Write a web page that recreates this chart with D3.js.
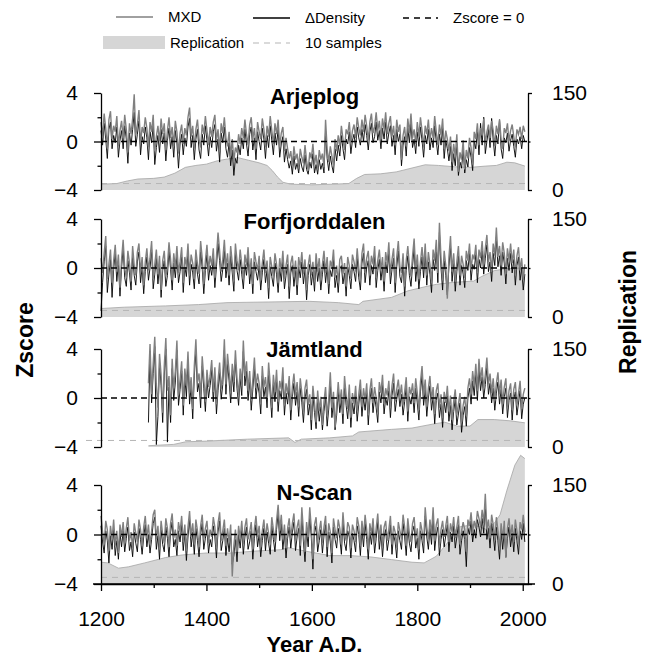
<!DOCTYPE html>
<html><head><meta charset="utf-8">
<script src="https://cdn.jsdelivr.net/npm/d3@7"></script>
<style>
html,body{margin:0;padding:0;background:#fff;}
svg{display:block;font-family:"Liberation Sans",Arial,sans-serif;}
</style></head><body>
<svg id="chart" width="646" height="659"></svg>
<script>
// ---------------- DATA ----------------
const sites = ["Arjeplog", "Forfjorddalen", "Jämtland", "N-Scan"];
const startYears = [1200, 1200, 1290, 1200];
const yearStep = 3;

const mxdArjeplog = [
 1.6,0.4,2.3,1.1,-0.6,1.8,2.5,0.2,1.3,0.8,
 2.1,-0.4,0.9,1.7,0.3,2.2,1.0,-0.9,1.5,0.6,
 1.9,3.9,0.5,1.4,2.6,-0.2,1.2,0.7,2.0,1.1,
 -0.5,1.6,0.8,2.2,-0.8,0.4,1.3,0.0,1.9,0.6,
 1.5,-0.7,0.9,2.0,0.3,1.2,-0.4,1.7,0.8,-1.0,
 0.7,1.4,-0.2,1.1,0.5,2.0,2.8,0.4,1.3,-0.6,
 1.0,1.8,0.2,-0.5,1.4,0.6,2.1,0.9,-0.3,1.2,
 0.4,1.6,2.2,0.1,1.0,-0.8,1.5,0.7,2.0,0.3,
 -0.4,0.8,-1.2,0.2,-1.6,-0.5,-0.9,0.6,-0.2,1.1,
 0.3,1.8,0.6,-0.3,1.4,2.0,0.2,1.1,-0.6,1.6,
 0.8,0.2,1.9,1.0,-0.5,1.3,0.4,2.1,0.9,-0.2,
 1.5,0.6,1.8,-0.4,0.7,1.2,-0.8,0.3,-0.6,-1.4,
 -0.8,-2.0,-0.4,-1.5,-1.0,-2.2,-0.6,-1.3,-1.8,-0.3,
 -1.6,-2.4,-0.9,-1.4,-0.2,-1.9,-1.1,-2.3,-0.7,-1.5,
 -1.0,-2.1,1.8,-0.6,-1.7,-0.4,-1.2,-2.0,0.2,-0.8,
 0.5,-0.4,1.3,0.2,-0.7,1.0,0.6,1.6,-0.2,0.9,
 1.4,0.3,2.0,1.1,0.5,1.8,0.8,2.2,1.3,0.1,
 1.6,2.3,0.7,1.2,2.4,0.9,1.7,0.2,1.9,1.0,
 2.4,0.6,1.5,2.1,0.4,1.3,-0.3,1.8,0.8,1.4,
 -1.5,0.5,1.2,-0.4,1.9,0.7,2.3,0.3,1.0,-0.2,
 1.6,0.4,2.0,0.9,-0.5,1.3,0.6,1.8,0.1,1.1,
 0.3,2.1,0.8,-0.3,1.4,0.5,1.9,-0.6,0.9,0.2,
 -0.8,0.4,-1.7,-0.2,-1.2,0.6,-2.5,-0.9,-1.5,0.1,
 -2.3,-0.7,-1.4,0.3,-0.5,-1.9,0.8,0.2,1.5,-0.3,
 1.1,0.5,1.9,-0.2,0.8,1.4,0.3,1.7,0.9,-0.4,
 1.3,0.6,1.8,0.2,-0.6,1.1,0.7,1.5,0.0,0.9,
 1.4,0.4,-0.5,1.0,0.6,1.2,0.2,1.3,0.8];
const densArjeplog = [
 0.9,-0.3,1.5,0.2,-1.4,1.0,1.6,-0.6,0.5,-0.1,
 1.2,-1.3,0.1,0.9,-0.6,1.3,0.2,-1.8,0.7,-0.3,
 1.0,2.4,-0.4,0.6,1.7,-1.1,0.4,-0.2,1.2,0.3,
 -1.5,0.8,-0.1,1.3,-1.9,-0.5,0.5,-0.9,1.0,-0.2,
 0.7,-1.6,0.1,1.1,-0.6,0.4,-1.3,0.9,-0.1,-2.2,
 -0.2,0.6,-1.1,0.3,-0.4,1.2,1.9,-0.5,0.5,-1.5,
 0.2,1.0,-0.7,-1.4,0.6,-0.3,1.3,0.1,-1.2,0.4,
 -0.5,0.8,1.4,-0.8,0.2,-1.7,0.7,-0.1,1.2,-0.6,
 -1.3,-0.1,-2.0,-0.7,-2.8,-1.4,-1.8,-0.3,-1.1,0.3,
 -0.6,1.0,-0.2,-1.2,0.6,1.2,-0.7,0.3,-1.5,0.8,
 0.0,-0.7,1.1,0.2,-1.4,0.5,-0.5,1.3,0.1,-1.1,
 0.7,-0.3,1.0,-1.3,-0.2,0.4,-1.7,-0.6,-1.5,-2.2,
 -1.6,-2.7,-1.2,-2.3,-1.8,-2.6,-1.4,-2.1,-2.5,-1.1,
 -2.3,-2.7,-1.7,-2.2,-1.0,-2.6,-1.9,-2.7,-1.5,-2.3,
 -1.8,-2.6,0.9,-1.4,-2.4,-1.2,-2.0,-2.6,-0.6,-1.6,
 -0.3,-1.2,0.5,-0.6,-1.5,0.2,-0.2,0.8,-1.0,0.1,
 0.6,-0.5,1.2,0.3,-0.3,1.0,0.0,1.4,0.5,-0.7,
 0.8,1.5,-0.1,0.4,1.6,0.1,0.9,-0.6,1.1,0.2,
 1.6,-0.2,0.7,1.3,-0.4,0.5,-1.1,1.0,0.0,0.6,
 -2.0,-0.3,0.4,-1.2,1.1,-0.1,1.5,-0.5,0.2,-1.0,
 0.8,-0.4,1.2,0.1,-1.3,0.5,-0.2,1.0,-0.7,0.3,
 -0.5,1.3,0.0,-1.1,0.6,-0.3,1.1,-1.4,0.1,-0.6,
 -1.6,-0.4,-2.4,-1.0,-2.0,-0.2,-2.8,-1.7,-2.2,-0.7,
 -2.6,-1.5,-2.1,-0.5,-1.3,-2.4,0.0,-0.6,0.9,-1.1,
 1.5,-0.3,2.0,-1.0,0.0,1.0,-0.5,1.9,0.1,-1.2,
 0.5,-0.2,1.8,-0.6,-1.4,0.3,-0.1,0.7,-0.8,0.1,
 0.6,-0.4,-1.3,0.2,-0.2,0.4,-0.6,0.5,0.0];

const mxdForfjorddalen = [
 0.8,-0.4,1.2,2.6,-0.9,0.3,1.5,-1.2,0.6,1.9,
 -0.3,1.1,-1.6,0.7,2.3,0.0,-0.8,1.4,0.4,-1.1,
 1.8,0.2,-0.6,1.3,2.0,-0.4,0.9,-1.4,0.5,1.6,
 -0.2,0.8,2.2,-0.9,0.3,1.5,-0.5,1.0,-1.8,0.6,
 1.4,-0.7,0.2,2.1,0.7,-1.0,1.2,0.0,1.8,-0.4,
 0.5,1.7,-1.2,0.9,0.1,2.0,-0.6,1.1,0.4,-0.9,
 1.5,0.3,-0.5,2.2,0.8,-1.3,0.6,1.9,-0.2,1.0,
 0.2,1.6,-0.8,0.9,2.9,1.4,-0.3,0.7,2.3,0.0,
 1.2,-0.6,1.8,0.4,-1.1,2.0,0.6,-0.2,1.5,0.3,
 -0.9,1.1,0.2,1.7,-0.5,0.8,-1.3,1.3,0.5,-0.2,
 1.0,-1.0,0.4,1.5,-0.4,0.6,-1.6,0.9,0.1,-0.7,
 1.2,0.3,-1.2,0.8,-0.3,1.4,-0.9,0.2,1.1,-1.5,
 0.4,1.0,-0.7,0.6,-1.4,0.9,0.0,1.3,-0.5,0.7,
 -1.8,0.2,1.1,-0.6,0.5,-1.1,1.2,-0.3,0.8,-1.0,
 0.3,1.4,-0.4,0.9,-1.3,0.6,0.1,1.5,-0.8,0.2,
 -1.2,0.7,1.0,-0.5,0.4,-1.5,0.9,0.2,-0.9,1.1,
 0.5,-0.3,1.6,0.0,-1.0,1.2,2.0,-0.4,0.8,1.4,
 -0.6,1.0,0.3,1.8,-0.8,0.6,1.5,-0.2,0.9,-1.1,
 1.3,0.4,2.1,-0.5,0.7,1.6,-1.2,0.9,2.2,0.1,
 -0.4,1.2,-1.5,0.6,1.8,0.2,-0.7,1.0,2.4,-0.3,
 1.1,-0.9,0.5,1.7,0.0,2.0,-0.6,1.3,0.3,-1.2,
 1.5,0.6,2.3,-0.4,3.7,0.8,-1.0,1.4,0.2,-2.5,
 0.9,2.6,-0.3,1.2,-1.1,0.5,1.8,-0.6,1.0,0.3,
 -0.8,1.4,0.6,2.0,-0.2,1.1,0.7,1.9,-0.4,1.5,
 0.8,2.2,0.3,1.6,2.7,0.5,1.3,-0.3,2.0,1.0,
 3.3,0.9,1.8,0.2,2.1,1.2,-0.5,1.6,0.6,2.0,
 0.4,1.5,-0.6,1.0,1.7,-0.2,0.8,-1.0,0.3];
const densForfjorddalen = [
 -3.5,-1.2,0.5,1.8,-2.0,-0.5,0.7,-2.4,-0.1,1.2,
 -1.1,0.4,-2.3,0.0,1.6,-0.8,-1.5,0.6,-0.4,-1.8,
 1.0,-0.6,-1.4,0.5,1.3,-1.2,0.1,-2.1,-0.3,0.9,
 -1.0,0.0,1.5,-1.7,-0.5,0.8,-1.3,0.2,-2.4,-0.2,
 0.6,-1.5,-0.6,1.4,-0.1,-1.8,0.4,-0.8,1.0,-1.2,
 -0.3,0.9,-2.0,0.1,-0.7,1.3,-1.4,0.3,-0.4,-1.7,
 0.7,-0.5,-1.3,1.4,0.0,-2.1,-0.2,1.1,-1.0,0.2,
 -0.6,0.8,-1.6,0.1,2.0,0.6,-1.1,-0.1,1.5,-0.8,
 0.4,-1.4,1.0,-0.4,-1.9,1.2,-0.2,-1.0,0.7,-0.5,
 -1.7,0.3,-0.6,0.9,-1.3,0.0,-2.1,0.5,-0.3,-1.0,
 0.2,-1.8,-0.4,0.7,-1.2,-0.2,-2.5,0.1,-0.7,-1.5,
 0.4,-0.5,-2.0,0.0,-1.1,0.6,-1.7,-0.6,0.3,-2.5,
 -0.4,0.2,-1.5,-0.2,-2.2,0.1,-0.8,0.5,-1.3,-0.1,
 -2.6,-0.6,0.3,-1.4,-0.3,-1.9,0.4,-1.1,0.0,-1.8,
 -0.5,0.6,-1.2,0.1,-2.1,-0.2,-0.7,0.7,-1.6,-0.6,
 -2.0,-0.1,0.2,-1.3,-0.4,-2.3,0.1,-0.6,-1.7,0.3,
 -0.3,-1.1,0.8,-0.8,-1.8,0.4,1.2,-1.2,0.0,0.6,
 -1.4,0.2,-0.5,1.0,-1.6,-0.2,0.7,-1.0,0.1,-1.9,
 0.5,-0.4,1.3,-1.3,-0.1,0.8,-2.0,0.1,1.4,-0.7,
 -1.2,0.4,-2.3,-0.2,1.0,-0.6,-1.5,0.2,1.6,-1.1,
 0.3,-1.7,-0.3,0.9,-0.8,1.2,-1.4,0.5,-0.5,-2.0,
 0.7,-0.2,1.5,-1.2,2.9,0.0,-1.8,0.6,-0.6,-2.2,
 0.1,1.8,-1.1,0.4,-1.9,-0.3,1.0,-1.4,0.2,-0.5,
 -1.6,0.6,-0.2,1.2,-1.0,0.3,-0.1,1.1,-1.2,0.7,
 0.0,1.4,-0.5,0.8,1.9,-0.3,0.5,-1.1,1.2,0.2,
 2.5,0.1,1.0,-0.6,1.3,0.4,-1.3,0.8,-0.2,1.2,
 -0.4,0.7,-1.4,0.2,0.9,-1.0,0.0,-1.8,-0.5];

const mxdJamtland = [
 1.2,4.4,0.3,2.8,5.0,1.0,-0.8,3.6,1.9,-1.2,
 2.6,4.9,0.6,1.8,-1.4,3.2,0.8,2.2,4.7,0.2,
 1.5,3.0,-0.6,2.4,1.0,3.8,0.4,1.7,-0.9,2.6,
 4.8,1.3,2.0,0.1,3.4,1.6,-0.3,2.3,0.9,1.8,
 3.1,0.5,2.5,-0.5,1.4,2.9,0.7,1.9,4.8,1.1,
 3.6,2.2,0.4,2.8,1.3,3.9,1.6,0.2,2.4,1.0,
 4.7,1.8,3.0,0.6,2.2,-0.2,1.5,3.3,0.8,2.0,
 1.2,-0.5,2.6,0.9,1.7,0.0,2.9,1.1,-0.8,1.9,
 0.5,2.3,-0.3,1.4,0.7,2.5,-0.6,1.2,0.3,1.8,
 -1.0,0.9,2.0,0.2,1.3,-0.7,1.6,0.4,-1.2,0.8,
 1.5,-0.6,0.3,-1.8,1.0,-0.4,-2.0,0.6,-1.1,0.1,
 -2.2,-0.3,0.9,-1.5,-0.1,2.1,-0.8,0.5,-2.4,-0.6,
 1.3,-0.4,0.7,-1.3,1.8,0.2,-0.9,1.1,-1.6,0.4,
 -0.5,1.0,-1.1,0.3,1.5,-0.7,0.8,-0.2,1.2,-1.4,
 0.6,1.6,-0.4,0.9,0.0,-1.2,1.3,0.4,1.9,-0.5,
 0.8,0.2,1.4,-0.8,1.0,2.0,-0.3,0.7,1.5,0.1,
 1.1,-0.6,0.5,1.7,-1.1,0.9,0.3,1.2,-0.4,1.6,
 0.4,-1.0,1.3,2.6,0.2,1.5,-0.7,0.8,1.8,-0.2,
 0.9,-1.3,0.6,1.2,-0.8,0.3,-1.6,0.5,-0.4,1.0,
 -1.1,0.2,-1.8,-0.3,0.7,-1.4,-0.5,0.4,-2.0,-0.6,
 0.1,-1.5,0.8,1.6,0.3,2.2,1.0,2.8,0.6,3.2,
 1.4,2.5,0.8,1.9,3.3,1.1,2.0,0.4,1.6,-0.2,
 1.2,2.1,0.3,1.5,-0.5,0.9,1.6,-0.8,0.6,1.2,
 -1.0,0.7,1.3,-0.6,0.4,1.4,-0.9,0.3,0.8];
const densJamtland = [
 -2.0,3.8,-0.4,2.0,4.2,-3.8,-1.5,2.9,1.0,-2.0,
 1.8,4.0,-3.6,0.9,-2.0,2.4,-0.2,1.3,3.9,-0.6,
 0.7,2.2,-1.4,1.6,0.1,3.0,-0.5,0.9,-1.7,1.8,
 3.8,0.5,1.2,-0.8,2.6,0.8,-1.1,1.5,0.0,1.0,
 2.3,-0.3,1.7,-1.3,0.6,2.1,-0.1,1.1,3.9,0.3,
 2.8,1.4,-0.4,2.0,0.5,3.1,0.8,-0.6,1.6,0.2,
 3.8,1.0,2.2,-0.2,1.4,-1.0,0.7,2.5,0.0,1.2,
 0.4,-1.3,1.8,0.1,0.9,-0.8,2.1,0.3,-1.6,1.1,
 -0.3,1.5,-1.1,0.6,-0.1,1.7,-1.4,0.4,-0.5,1.0,
 -1.8,0.1,1.2,-0.6,0.5,-1.5,0.8,-0.4,-2.0,0.0,
 0.7,-1.4,-0.5,-2.6,0.2,-1.2,-2.5,-0.2,-1.9,-0.7,
 -2.6,-1.1,0.1,-2.3,-0.9,1.3,-1.6,-0.3,-2.6,-1.4,
 0.5,-1.2,-0.1,-2.1,1.0,-0.6,-1.7,0.3,-2.4,-0.4,
 -1.3,0.2,-1.9,-0.5,0.7,-1.5,0.0,-1.0,0.4,-2.2,
 -0.2,0.8,-1.2,0.1,-0.8,-2.0,0.5,-0.4,1.1,-1.3,
 0.0,-0.6,0.6,-1.6,0.2,1.2,-1.1,-0.1,0.7,-0.7,
 0.3,-1.4,-0.3,0.9,-1.9,0.1,-0.5,0.4,-1.2,0.8,
 -0.4,-1.8,0.5,1.8,-0.6,0.7,-1.5,0.0,1.0,-1.0,
 0.1,-2.1,-0.2,0.4,-1.6,-0.5,-2.4,-0.3,-1.2,0.2,
 -1.9,-0.6,-2.6,-1.1,-0.1,-2.2,-1.3,-0.4,-2.8,-1.4,
 -0.7,-2.3,0.0,0.8,-0.5,1.4,0.2,2.0,-0.2,2.4,
 0.6,1.7,0.0,1.1,2.5,0.3,1.2,-0.4,0.8,-1.0,
 0.4,1.3,-0.5,0.7,-1.3,0.1,0.8,-1.6,-0.2,0.4,
 -1.8,-0.1,0.5,-1.4,-0.4,0.6,-1.7,-0.5,0.0];

const mxdNScan = [
 1.5,0.2,-0.8,1.1,0.4,-1.3,0.7,-0.4,1.2,-0.9,
 0.3,-1.5,0.8,-0.2,1.0,-0.7,0.5,1.4,-0.5,0.2,
 -1.1,0.9,0.1,-0.6,1.2,0.4,-0.9,0.6,1.5,-0.3,
 0.8,-0.8,0.3,1.6,2.0,-0.4,0.7,-1.2,1.1,0.0,
 -0.7,1.3,0.5,-1.0,0.9,1.7,-0.3,0.4,-0.9,1.0,
 0.2,1.5,-0.6,0.8,-1.3,0.6,1.9,-0.2,0.9,-0.8,
 1.2,0.3,-1.0,0.7,1.6,-0.4,0.5,1.1,-0.7,0.4,
 -0.2,1.4,0.6,-1.1,0.9,1.8,-0.5,0.3,1.2,-0.9,
 0.5,-0.6,0.8,-3.4,-0.9,0.4,-1.4,0.7,-0.3,1.1,
 -0.8,0.6,1.3,-0.4,0.2,1.0,-1.2,0.5,1.5,-0.2,
 0.7,-1.0,0.3,1.2,-0.5,0.9,0.1,-0.8,1.4,0.4,
 -0.6,1.1,2.4,0.3,1.6,-0.4,0.8,-1.1,0.5,1.3,
 -0.3,0.9,1.7,-0.5,0.6,1.2,-0.9,2.2,0.2,-1.4,
 1.0,-0.2,2.2,0.5,-2.0,0.8,1.4,-0.6,0.3,1.1,
 -0.7,0.6,1.5,-1.0,0.9,0.2,-1.5,1.3,0.4,-0.3,
 1.2,0.5,-0.8,1.8,0.1,-0.5,1.0,0.6,-1.1,0.8,
 0.3,-0.6,1.4,0.7,-0.9,1.1,-0.2,1.6,0.4,-1.2,
 0.9,0.0,1.3,-0.7,0.5,1.7,-0.4,0.8,-1.0,0.6,
 1.1,-0.5,0.4,1.5,-0.8,0.7,0.2,-1.1,1.0,0.3,
 -0.4,1.6,0.6,-0.9,1.3,0.1,-0.6,0.9,1.4,-0.3,
 0.5,-1.2,1.0,0.3,-0.7,2.2,0.6,-0.4,1.2,0.0,
 2.2,-0.5,0.8,1.3,-0.9,0.4,1.1,-0.2,0.7,1.5,
 -0.6,0.9,0.2,1.4,-0.3,0.6,1.5,-0.8,0.3,1.0,
 0.4,-1.4,1.2,0.7,1.8,0.2,1.1,0.5,1.9,1.3,
 0.6,2.0,0.9,3.3,0.4,1.2,-0.3,1.6,0.8,-0.5,
 1.4,0.3,-1.2,0.9,-0.4,1.1,-1.9,0.5,1.3,-0.2,
 0.8,-0.6,1.2,0.3,-0.8,1.0,0.4,1.6,0.2];
const densNScan = [
 0.7,-0.6,-1.5,0.3,-0.5,-2.3,-0.1,-1.2,0.4,-1.7,
 -0.5,-2.0,0.1,-1.0,0.3,-1.4,-0.3,0.6,-1.3,-0.6,
 -1.8,0.2,-0.7,-1.4,0.5,-0.4,-1.6,-0.2,0.8,-1.0,
 0.0,-1.5,-0.4,0.9,1.4,-1.2,-0.1,-2.0,0.4,-0.8,
 -1.4,0.6,-0.3,-1.8,0.2,1.0,-1.0,-0.4,-1.7,0.3,
 -0.6,0.8,-1.3,0.1,-2.1,-0.2,1.2,-1.0,0.2,-1.6,
 0.5,-0.5,-1.8,0.0,0.9,-1.2,-0.3,0.4,-1.5,-0.4,
 -1.0,0.7,-0.2,-1.9,0.2,1.1,-1.3,-0.5,0.5,-1.7,
 -0.3,-1.4,0.1,-2.4,-1.7,-0.4,-2.2,0.0,-1.1,0.4,
 -1.6,-0.2,0.6,-1.2,-0.6,0.3,-2.0,-0.3,0.8,-1.0,
 0.0,-1.8,-0.5,0.5,-1.3,0.2,-0.7,-1.6,0.7,-0.4,
 -1.4,0.4,1.7,-0.5,0.9,-1.2,0.1,-1.9,-0.3,0.6,
 -1.1,0.2,1.0,-1.3,-0.2,0.5,-1.7,1.5,-0.6,-2.2,
 0.3,-1.0,1.5,-0.3,-2.8,0.1,0.7,-1.4,-0.5,0.4,
 -1.5,-0.1,0.8,-1.8,0.2,-0.6,-2.3,0.6,-0.4,-1.1,
 0.5,-0.3,-1.6,1.1,-0.7,-1.3,0.3,-0.2,-1.9,0.1,
 -0.5,-1.4,0.7,0.0,-1.7,0.4,-1.0,0.9,-0.4,-2.0,
 0.2,-0.8,0.6,-1.5,-0.3,1.0,-1.2,0.1,-1.8,-0.2,
 0.4,-1.3,-0.4,0.8,-1.6,0.0,-0.6,-1.9,0.3,-0.5,
 -1.2,0.9,-0.2,-1.7,0.6,-0.7,-1.4,0.2,0.7,-1.1,
 -0.3,-2.0,0.3,-0.5,-1.5,1.5,-0.2,-1.2,0.5,-0.8,
 1.5,-1.3,0.0,0.6,-1.7,-0.4,0.4,-1.0,-0.1,0.8,
 -1.4,0.2,-0.6,0.7,-1.1,-0.2,0.8,-1.6,-0.5,0.3,
 -0.4,-2.6,0.5,0.0,1.1,-0.6,0.4,-0.3,1.2,0.6,
 -0.2,1.3,0.1,2.4,-0.4,0.5,-1.1,0.9,0.0,-1.3,
 0.6,-0.5,-2.0,0.2,-1.2,0.4,-1.8,-0.3,0.6,-1.0,
 0.1,-1.4,0.5,-0.5,-1.6,0.3,-0.4,0.9,-0.6];

// replication (number of samples), [year, count]
const repArjeplog = [[1200,9],[1230,10],[1250,14],[1270,17],[1300,18],[1320,20],[1340,26],[1360,35],[1380,38],[1400,40],[1420,45],[1440,48],[1460,50],[1480,46],[1500,42],[1515,38],[1525,30],[1535,20],[1545,12],[1560,9],[1600,8],[1640,9],[1670,10],[1685,18],[1700,24],[1730,25],[1760,28],[1790,34],[1815,39],[1840,38],[1870,36],[1900,35],[1930,37],[1950,38],[1970,43],[1985,42],[2004,37]];
const repForfjorddalen = [[1200,13],[1244,15],[1322,17],[1385,19],[1439,22],[1517,23],[1595,24],[1650,22],[1689,19],[1697,24],[1751,30],[1782,40],[1813,46],[1836,50],[1868,53],[1907,55],[1922,62],[1946,71],[1970,74],[1993,75],[2004,72]];
const repJamtland = [[1290,2],[1338,4],[1361,8],[1400,9],[1478,12],[1556,14],[1568,7],[1580,12],[1634,14],[1677,17],[1689,23],[1751,27],[1790,29],[1829,35],[1852,38],[1876,32],[1900,32],[1915,42],[1946,42],[1977,40],[2004,37]];
const repNScan = [[1200,33],[1213,32],[1233,24],[1252,26],[1283,32],[1322,40],[1354,44],[1400,47],[1447,47],[1494,50],[1541,52],[1556,55],[1587,50],[1634,43],[1673,43],[1712,41],[1751,37],[1790,33],[1813,32],[1836,42],[1860,65],[1876,86],[1907,90],[1930,83],[1946,92],[1957,105],[1970,142],[1985,180],[1996,195],[2004,190]];

const zTicks = [-4, 0, 4], zMinorTicks = [-2, 2];
const repTicks = [0, 150], repMinorTicks = [75];
const yearTicks = [1200, 1400, 1600, 1800, 2000], yearMinorTicks = [1300, 1500, 1700, 1900];
const sampleThreshold = 10;
const legendLabels = ["MXD", "\u0394Density", "Zscore = 0", "Replication", "10 samples"];
const axisTitles = {x: "Year A.D.", left: "Zscore", right: "Replication"};

// ---------------- LAYOUT ----------------
const panelData = [
  {mxd: mxdArjeplog, dens: densArjeplog, rep: repArjeplog},
  {mxd: mxdForfjorddalen, dens: densForfjorddalen, rep: repForfjorddalen},
  {mxd: mxdJamtland, dens: densJamtland, rep: repJamtland},
  {mxd: mxdNScan, dens: densNScan, rep: repNScan}
];
const layout = [
  {top: 93, bottom: 190, titleY: 104},
  {top: 219, bottom: 317, titleY: 229},
  {top: 349, bottom: 447, titleY: 357},
  {top: 485, bottom: 584, titleY: 500}
];
const X0 = 101, X1 = 528;
const GRAY = "#808080", FILL = "#d6d6d6", FILL_EDGE = "#a5a5a5";

const svg = d3.select("#chart");
const x = d3.scaleLinear().domain([1200, 2010]).range([X0, X1]);

function styleAxis(g, fs) {
  g.selectAll("path.domain").attr("stroke", "#000").attr("stroke-width", 1.3);
  g.selectAll(".tick line").attr("stroke", "#000").attr("stroke-width", 1.3);
  g.selectAll(".tick text").attr("font-size", fs).attr("fill", "#000")
    .attr("font-family", "'Liberation Sans', Arial, sans-serif");
}

sites.forEach((name, i) => {
  const L = layout[i], D = panelData[i];
  const yZ = d3.scaleLinear().domain([-4, 4]).range([L.bottom, L.top]);
  const yR = d3.scaleLinear().domain([0, 150]).range([L.bottom, L.top]);
  const g = svg.append("g");

  const area = d3.area().x(d => x(d[0])).y0(yR(0)).y1(d => yR(d[1]));
  g.append("path").datum(D.rep).attr("d", area).attr("fill", FILL);
  g.append("path").datum(D.rep).attr("d", d3.line().x(d => x(d[0])).y(d => yR(d[1])))
    .attr("fill", "none").attr("stroke", FILL_EDGE).attr("stroke-width", 0.8);

  g.append("line")
    .attr("x1", i === 2 ? X0 - 15 : X0).attr("x2", X1)
    .attr("y1", yR(sampleThreshold)).attr("y2", yR(sampleThreshold))
    .attr("stroke", "#b5b5b5").attr("stroke-width", 1).attr("stroke-dasharray", "6,5");

  const yrs = D.mxd.map((_, k) => startYears[i] + k * yearStep);
  const line = d3.line().x((d, k) => x(yrs[k])).y(d => yZ(d));
  g.append("path").datum(D.dens).attr("d", line)
    .attr("fill", "none").attr("stroke", "#000").attr("stroke-width", 0.9);
  g.append("path").datum(D.mxd).attr("d", line)
    .attr("fill", "none").attr("stroke", GRAY).attr("stroke-width", 1.4);

  g.append("line").attr("x1", X0).attr("x2", X1)
    .attr("y1", yZ(0)).attr("y2", yZ(0))
    .attr("stroke", "#000").attr("stroke-width", 1.3).attr("stroke-dasharray", "6,4");

  const la = g.append("g").attr("transform", `translate(${X0},0)`)
    .call(d3.axisLeft(yZ).tickValues(zTicks).tickSize(7).tickSizeOuter(0).tickPadding(16).tickFormat(d3.format("d")));
  styleAxis(la, 21);
  const lam = g.append("g").attr("transform", `translate(${X0},0)`)
    .call(d3.axisLeft(yZ).tickValues(zMinorTicks).tickSize(3.5).tickFormat(""));
  lam.select("path.domain").remove(); styleAxis(lam, 21);

  const ra = g.append("g").attr("transform", `translate(${X1},0)`)
    .call(d3.axisRight(yR).tickValues(repTicks).tickSize(4).tickSizeOuter(0).tickPadding(20));
  styleAxis(ra, 21);
  const ram = g.append("g").attr("transform", `translate(${X1},0)`)
    .call(d3.axisRight(yR).tickValues(repMinorTicks).tickSize(2.5).tickFormat(""));
  ram.select("path.domain").remove(); styleAxis(ram, 21);

  g.append("text").attr("x", (X0 + X1) / 2).attr("y", L.titleY)
    .attr("text-anchor", "middle").attr("font-weight", "bold").attr("font-size", 22)
    .text(name);

  if (i === sites.length - 1) {
    g.append("line").attr("x1", X0 - 8).attr("x2", X1 + 7)
      .attr("y1", L.bottom).attr("y2", L.bottom).attr("stroke", "#000").attr("stroke-width", 1.3);
    const ba = g.append("g").attr("transform", `translate(0,${L.bottom})`)
      .call(d3.axisBottom(x).tickValues(yearTicks).tickSize(7).tickSizeOuter(0).tickPadding(20).tickFormat(d3.format("d")));
    styleAxis(ba, 21);
    const bam = g.append("g").attr("transform", `translate(0,${L.bottom})`)
      .call(d3.axisBottom(x).tickValues(yearMinorTicks).tickSize(4).tickFormat(""));
    bam.select("path.domain").remove(); styleAxis(bam, 21);
  }
});

svg.append("text").attr("x", (X0 + X1) / 2).attr("y", 652).attr("text-anchor", "middle")
  .attr("font-weight", "bold").attr("font-size", 22).text(axisTitles.x);
svg.append("text").attr("transform", "translate(33,340) rotate(-90)").attr("text-anchor", "middle")
  .attr("font-weight", "bold").attr("font-size", 23).text(axisTitles.left);
svg.append("text").attr("transform", "translate(636,312) rotate(-90)").attr("text-anchor", "middle")
  .attr("font-weight", "bold").attr("font-size", 23).text(axisTitles.right);

const lg = svg.append("g").attr("font-size", 15);
lg.append("line").attr("x1", 116).attr("x2", 153).attr("y1", 17).attr("y2", 17).attr("stroke", GRAY).attr("stroke-width", 1.5);
lg.append("text").attr("x", 168).attr("y", 17).attr("dy", "0.35em").text(legendLabels[0]);
lg.append("line").attr("x1", 253).attr("x2", 290).attr("y1", 18).attr("y2", 18).attr("stroke", "#000").attr("stroke-width", 1.5);
lg.append("text").attr("x", 305).attr("y", 18).attr("dy", "0.35em").text(legendLabels[1]);
lg.append("line").attr("x1", 403).attr("x2", 438).attr("y1", 18).attr("y2", 18).attr("stroke", "#000").attr("stroke-width", 1.5).attr("stroke-dasharray", "6,5");
lg.append("text").attr("x", 453).attr("y", 18).attr("dy", "0.35em").text(legendLabels[2]);
lg.append("rect").attr("x", 103).attr("y", 36).attr("width", 62).attr("height", 13).attr("fill", FILL);
lg.append("text").attr("x", 170).attr("y", 43).attr("dy", "0.35em").text(legendLabels[3]);
lg.append("line").attr("x1", 253).attr("x2", 290).attr("y1", 43).attr("y2", 43).attr("stroke", "#b5b5b5").attr("stroke-width", 1.2).attr("stroke-dasharray", "6,5");
lg.append("text").attr("x", 305).attr("y", 43).attr("dy", "0.35em").text(legendLabels[4]);
</script>
</body></html>
